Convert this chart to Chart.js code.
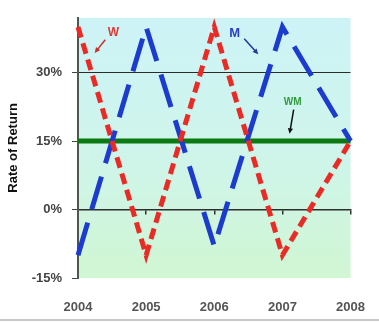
<!DOCTYPE html>
<html>
<head>
<meta charset="utf-8">
<script src="https://cdn.jsdelivr.net/npm/chart.js@4/dist/chart.umd.min.js"></script>
<style>
html,body{margin:0;padding:0;background:#fff;}
#wrap{position:relative;width:379px;height:322px;}
#edge{position:absolute;left:0;top:319px;width:379px;height:2px;background:#c9c9c9;}
</style>
</head>
<body>
<div id="wrap"><canvas id="c" width="379" height="322"></canvas><div id="edge"></div></div>
<script>
const categories = ['2004', '2005', '2006', '2007', '2008'];
const wValues = [40, -10, 40, -10, 15];
const mValues = [-10, 40, -8, 40, 15];
const wmValues = [15, 15, 15, 15, 15];
const yTicks = [-15, 0, 15, 30];
const yMin = -15, yMax = 42;

// annotations: label + arrow, in data coordinates (x = category index, y = %)
const notes = [
  {text: 'W', color: '#e23a36', arrow: '#c8302c', size: 12, at: [0.52, 38.8], from: [0.40, 37.2], to: [0.245, 34.3]},
  {text: 'M', color: '#2a40c4', arrow: '#24379c', size: 13, at: [2.30, 38.6], from: [2.44, 37.4], to: [2.645, 34.0]},
  {text: 'WM', color: '#2f9a3c', arrow: '#111', size: 10, at: [3.15, 23.4], from: [3.165, 21.9], to: [3.105, 16.6]}
];

const bgPlugin = {
  id: 'bg',
  beforeDraw(chart) {
    const {ctx, chartArea: a} = chart;
    const g = ctx.createLinearGradient(0, a.top, 0, a.bottom);
    g.addColorStop(0, '#cdf3f7');
    g.addColorStop(0.55, '#cff5ea');
    g.addColorStop(1, '#d0f6d3');
    ctx.save();
    ctx.fillStyle = g;
    ctx.fillRect(a.left, a.top, a.right - a.left, a.bottom - a.top);
    ctx.restore();
  }
};

const notePlugin = {
  id: 'notes',
  afterDatasetsDraw(chart) {
    const {ctx} = chart;
    const xs = chart.scales.x, ys = chart.scales.y;
    ctx.save();
    notes.forEach(n => {
      const tx = xs.getPixelForValue(n.at[0]), ty = ys.getPixelForValue(n.at[1]);
      ctx.font = 'bold ' + n.size + 'px "Liberation Sans", Arial, sans-serif';
      ctx.fillStyle = n.color;
      ctx.textAlign = 'center';
      ctx.textBaseline = 'middle';
      ctx.fillText(n.text, tx, ty);
      const x1 = xs.getPixelForValue(n.from[0]), y1 = ys.getPixelForValue(n.from[1]);
      const x2 = xs.getPixelForValue(n.to[0]), y2 = ys.getPixelForValue(n.to[1]);
      const ang = Math.atan2(y2 - y1, x2 - x1);
      const hl = 6;
      ctx.strokeStyle = n.arrow;
      ctx.fillStyle = n.arrow;
      ctx.lineWidth = 1.5;
      ctx.beginPath();
      ctx.moveTo(x1, y1);
      ctx.lineTo(x2 - Math.cos(ang) * 3, y2 - Math.sin(ang) * 3);
      ctx.stroke();
      ctx.beginPath();
      ctx.moveTo(x2, y2);
      ctx.lineTo(x2 - hl * Math.cos(ang - 0.45), y2 - hl * Math.sin(ang - 0.45));
      ctx.lineTo(x2 - hl * Math.cos(ang + 0.45), y2 - hl * Math.sin(ang + 0.45));
      ctx.closePath();
      ctx.fill();
    });
    ctx.restore();
  }
};

const tickFont = {family: '"Liberation Sans", Arial, sans-serif', size: 13, weight: 'bold'};

new Chart(document.getElementById('c'), {
  type: 'line',
  data: {
    labels: categories,
    datasets: [
      {label: 'W', data: wValues, borderColor: '#ea2b25', borderWidth: 5, borderDash: [11, 6], pointRadius: 0, tension: 0, fill: false},
      {label: 'M', data: mValues, borderColor: '#1c3ccf', borderWidth: 5, borderDash: [34, 14], pointRadius: 0, tension: 0, fill: false},
      {label: 'WM', data: wmValues, borderColor: '#0c7a12', borderWidth: 5, pointRadius: 0, tension: 0, fill: false}
    ]
  },
  options: {
    responsive: false,
    animation: false,
    devicePixelRatio: 1,
    layout: {padding: {top: 12, right: 24, left: 0, bottom: 0}},
    plugins: {legend: {display: false}, tooltip: {enabled: false}},
    scales: {
      x: {
        type: 'category',
        offset: false,
        grid: {display: false},
        border: {display: false},
        ticks: {font: tickFont, color: '#555', padding: 14, maxRotation: 0},
        afterFit(s) { s.height = 44; }
      },
      x2: {
        type: 'category',
        labels: categories,
        offset: false,
        position: {y: 0},
        grid: {display: true, drawOnChartArea: false, drawTicks: true, tickLength: 4, color: '#333', lineWidth: 1.5},
        border: {display: true, color: '#2e2e2e', width: 1.5},
        ticks: {display: false}
      },
      y: {
        min: yMin,
        max: yMax,
        afterBuildTicks(s) { s.ticks = yTicks.map(v => ({value: v})); },
        afterFit(s) { s.width = 78; },
        grid: {
          color: c => (c.tick && c.tick.value === yMin) ? 'rgba(0,0,0,0)' : '#2b2b2b',
          tickColor: '#444',
          lineWidth: 1,
          tickLength: 6
        },
        border: {display: true, color: '#4a5a4c', width: 2},
        ticks: {font: tickFont, color: '#444', padding: 10, callback: v => v + '%'},
        title: {display: true, text: 'Rate of Return', color: '#111', font: tickFont, padding: {top: 6, bottom: 0}}
      }
    }
  },
  plugins: [bgPlugin, notePlugin]
});
</script>
</body>
</html>
